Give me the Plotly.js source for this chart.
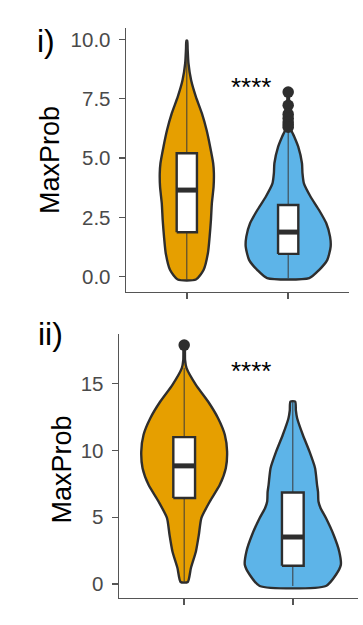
<!DOCTYPE html>
<html>
<head>
<meta charset="utf-8">
<script src="https://cdn.plot.ly/plotly-3.0.1.min.js"></script>
<style>
  html, body { margin: 0; padding: 0; background: #ffffff; }
  #chart { width: 363px; height: 625px; }
</style>
</head>
<body>
<div id="chart"></div>
<script>
// ---------- data ----------
const groupPos = [1, 2];              // category positions (orange, blue)
const panelLabels = ['i)', 'ii)'];
const yTitle = 'MaxProb';
const sigLabel = '****';

// Panel i — violin density profiles (value, half-width in category units)
const p1OrangeY  = [-0.12, 0.28, 0.99, 1.69, 2.39, 3.09, 3.79, 4.36, 4.78, 5.48, 6.18, 6.89, 7.59, 8.29, 9.0, 9.6, 9.95];
const p1OrangeHW = [0.09, 0.165, 0.208, 0.225, 0.238, 0.247, 0.264, 0.267, 0.26, 0.23, 0.195, 0.148, 0.089, 0.042, 0.016, 0.008, 0.004];
const p1BlueY    = [-0.06, 0.28, 0.71, 1.27, 1.69, 2.25, 2.81, 3.37, 3.93, 4.36, 4.78, 5.48, 5.9, 6.18, 6.5, 7.0, 7.78];
const p1BlueHW   = [0.208, 0.304, 0.386, 0.419, 0.413, 0.376, 0.304, 0.221, 0.155, 0.141, 0.136, 0.099, 0.06, 0.03, 0.018, 0.01, 0.004];
// Panel i — box statistics [orange, blue]
const p1Q1     = [1.87, 0.96];
const p1Median = [3.65, 1.88];
const p1Q3     = [5.2, 3.02];
const p1Lower  = [-0.12, -0.06];
const p1Upper  = [9.95, 6.2];
const p1BlueOutliers = [7.78, 7.22, 6.85, 6.68, 6.52, 6.4, 6.3];
const p1Ticks  = [0, 2.5, 5, 7.5, 10];
const p1TickText = ['0.0', '2.5', '5.0', '7.5', '10.0'];

// Panel ii — violin density profiles
const p2OrangeY  = [0.15, 1.2, 2.44, 3.69, 4.94, 6.18, 7.43, 8.68, 9.93, 11.18, 12.42, 13.67, 14.92, 16.17, 16.8, 17.9];
const p2OrangeHW = [0.033, 0.062, 0.108, 0.135, 0.158, 0.236, 0.328, 0.383, 0.395, 0.374, 0.312, 0.22, 0.108, 0.022, 0.008, 0.004];
const p2BlueY    = [-0.15, 0.69, 1.44, 2.44, 3.69, 4.94, 5.7, 6.18, 6.9, 7.43, 8.68, 9.93, 11.18, 12.42, 13.0, 13.67];
const p2BlueHW   = [0.305, 0.397, 0.442, 0.427, 0.375, 0.305, 0.255, 0.236, 0.232, 0.223, 0.205, 0.153, 0.092, 0.04, 0.028, 0.022];
const p2Q1     = [6.44, 1.37];
const p2Median = [8.85, 3.52];
const p2Q3     = [11.0, 6.86];
const p2Lower  = [0.15, -0.15];
const p2Upper  = [16.2, 13.67];
const p2OrangeOutliers = [17.9];
const p2Ticks  = [0, 5, 10, 15];
const p2TickText = ['0', '5', '10', '15'];

// ---------- styling ----------
const fillColors = ['#E69F00', '#5DB4E8'];
const outline = '#2E2E2E';
const boxHalf = 0.1;
const font = 'Liberation Sans, Arial, sans-serif';

function violinTrace(c, ys, hws, color, xa, ya) {
  const x = [], y = [];
  for (let i = 0; i < ys.length; i++) { x.push(c + hws[i]); y.push(ys[i]); }
  for (let i = ys.length - 1; i >= 0; i--) { x.push(c - hws[i]); y.push(ys[i]); }
  x.push(x[0]); y.push(y[0]);
  return { type: 'scatter', mode: 'lines', x, y, fill: 'toself', fillcolor: color,
           line: { color: outline, width: 2.4, shape: 'spline', smoothing: 0.6 },
           xaxis: xa, yaxis: ya, hoverinfo: 'skip', showlegend: false };
}
function whiskerTrace(c, lo, hi, xa, ya) {
  return { type: 'scatter', mode: 'lines', x: [c, c], y: [lo, hi],
           line: { color: '#3A3A3A', width: 1 }, xaxis: xa, yaxis: ya,
           hoverinfo: 'skip', showlegend: false };
}
function boxTrace(c, q1, q3, xa, ya) {
  return { type: 'scatter', mode: 'lines',
           x: [c - boxHalf, c + boxHalf, c + boxHalf, c - boxHalf, c - boxHalf],
           y: [q1, q1, q3, q3, q1], fill: 'toself', fillcolor: '#ffffff',
           line: { color: outline, width: 2.4 }, xaxis: xa, yaxis: ya,
           hoverinfo: 'skip', showlegend: false };
}
function medianTrace(c, m, xa, ya) {
  return { type: 'scatter', mode: 'lines', x: [c - boxHalf, c + boxHalf], y: [m, m],
           line: { color: outline, width: 5 }, xaxis: xa, yaxis: ya,
           hoverinfo: 'skip', showlegend: false };
}
function outlierTrace(c, vals, xa, ya) {
  return { type: 'scatter', mode: 'markers', x: vals.map(() => c), y: vals,
           marker: { color: outline, size: 11.5 }, xaxis: xa, yaxis: ya,
           hoverinfo: 'skip', showlegend: false };
}

const traces = [];
// Panel i
traces.push(violinTrace(groupPos[0], p1OrangeY, p1OrangeHW, fillColors[0], 'x', 'y'));
traces.push(violinTrace(groupPos[1], p1BlueY, p1BlueHW, fillColors[1], 'x', 'y'));
for (let g = 0; g < 2; g++) {
  traces.push(whiskerTrace(groupPos[g], p1Lower[g], p1Upper[g], 'x', 'y'));
  traces.push(boxTrace(groupPos[g], p1Q1[g], p1Q3[g], 'x', 'y'));
  traces.push(medianTrace(groupPos[g], p1Median[g], 'x', 'y'));
}
traces.push(outlierTrace(groupPos[1], p1BlueOutliers, 'x', 'y'));
// Panel ii
traces.push(violinTrace(groupPos[0], p2OrangeY, p2OrangeHW, fillColors[0], 'x2', 'y2'));
traces.push(violinTrace(groupPos[1], p2BlueY, p2BlueHW, fillColors[1], 'x2', 'y2'));
for (let g = 0; g < 2; g++) {
  traces.push(whiskerTrace(groupPos[g], p2Lower[g], p2Upper[g], 'x2', 'y2'));
  traces.push(boxTrace(groupPos[g], p2Q1[g], p2Q3[g], 'x2', 'y2'));
  traces.push(medianTrace(groupPos[g], p2Median[g], 'x2', 'y2'));
}
traces.push(outlierTrace(groupPos[0], p2OrangeOutliers, 'x2', 'y2'));

const W = 363, H = 625;
function axisBase() {
  return { showline: true, linecolor: '#555555', linewidth: 1.4, ticks: 'outside',
           ticklen: 6, tickwidth: 1.4, tickcolor: '#555555', showgrid: false, zeroline: false,
           tickfont: { family: font, size: 20.5, color: '#4A4A4A' }, fixedrange: true };
}
const xa1 = Object.assign(axisBase(), { domain: [126 / W, 349 / W], range: [0.4, 2.6],
  tickvals: groupPos, ticktext: ['', ''], anchor: 'y' });
const ya1 = Object.assign(axisBase(), { domain: [1 - 292 / H, 1 - 28 / H], range: [-0.645, 10.48],
  tickvals: p1Ticks, ticktext: p1TickText, anchor: 'x', ticklabelstandoff: 4 });
const xa2 = Object.assign(axisBase(), { domain: [119 / W, 358 / W], range: [0.4, 2.6],
  tickvals: groupPos, ticktext: ['', ''], anchor: 'y2' });
const ya2 = Object.assign(axisBase(), { domain: [1 - 598 / H, 1 - 334 / H], range: [-1.05, 18.73],
  tickvals: p2Ticks, ticktext: p2TickText, anchor: 'x2', ticklabelstandoff: 4 });

const annotations = [
  { text: panelLabels[0], xref: 'paper', yref: 'paper', x: 46 / W, y: 1 - 41 / H,
    xanchor: 'center', yanchor: 'middle', showarrow: false,
    font: { family: font, size: 32, color: '#000000' } },
  { text: panelLabels[1], xref: 'paper', yref: 'paper', x: 50 / W, y: 1 - 334 / H,
    xanchor: 'center', yanchor: 'middle', showarrow: false,
    font: { family: font, size: 32, color: '#000000' } },
  { text: yTitle, xref: 'paper', yref: 'paper', x: 50 / W, y: 1 - 160 / H, textangle: -90,
    xanchor: 'center', yanchor: 'middle', showarrow: false,
    font: { family: font, size: 27, color: '#000000' } },
  { text: yTitle, xref: 'paper', yref: 'paper', x: 61 / W, y: 1 - 469.5 / H, textangle: -90,
    xanchor: 'center', yanchor: 'middle', showarrow: false,
    font: { family: font, size: 27, color: '#000000' } },
  { text: sigLabel, xref: 'x', yref: 'y', x: 1.634, y: 8.0,
    xanchor: 'center', yanchor: 'middle', showarrow: false,
    font: { family: font, size: 26, color: '#000000' } },
  { text: sigLabel, xref: 'x2', yref: 'y2', x: 1.615, y: 15.95,
    xanchor: 'center', yanchor: 'middle', showarrow: false,
    font: { family: font, size: 26, color: '#000000' } }
];

const layout = {
  width: W, height: H, autosize: false,
  margin: { l: 0, r: 0, t: 0, b: 0, pad: 0 },
  paper_bgcolor: '#ffffff', plot_bgcolor: '#ffffff',
  showlegend: false,
  xaxis: xa1, yaxis: ya1, xaxis2: xa2, yaxis2: ya2,
  annotations
};

Plotly.newPlot('chart', traces, layout, { staticPlot: true, displayModeBar: false });
</script>
</body>
</html>
